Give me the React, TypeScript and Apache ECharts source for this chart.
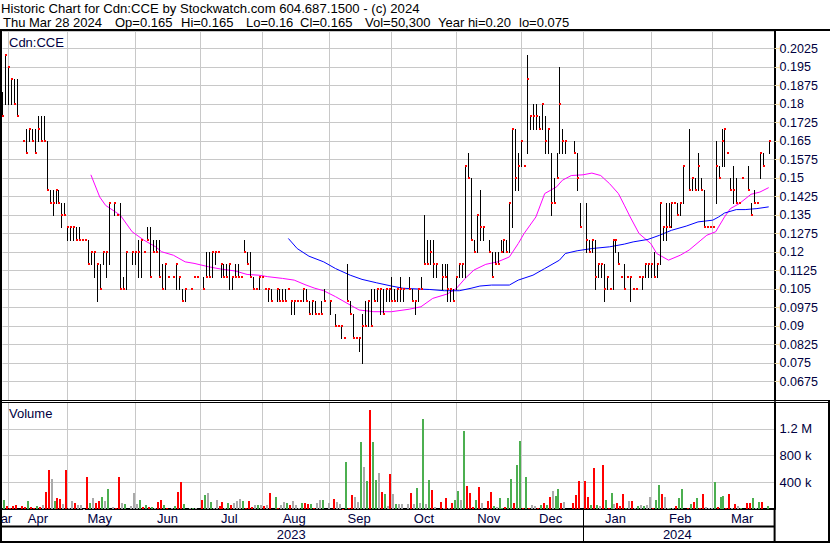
import React, { useEffect, useRef } from "react";
import * as echarts from "echarts";

// ---------------- DATA ----------------
// Calendar: every weekday from Thu 30 Mar 2023 to Mon 1 Apr 2024 (chart slots)
const FIRST_SLOT = "2023-03-30";
const LAST_SLOT = "2024-04-01";

const MONTH_NAMES = ["Jan", "Feb", "Mar", "Apr", "May", "Jun", "Jul", "Aug", "Sep", "Oct", "Nov", "Dec"];

// Daily High / Low / Close (null = no trade). Slot 0 = 30 Mar 2023.
const HIGH = [
  0.185, 0.2,
  0.195, 0.19, 0.19, 0.19, null,
  0.165, 0.17, 0.17, 0.17, 0.17,
  0.175, 0.175, 0.175, 0.165, 0.145,
  0.145, 0.145, 0.145, 0.14, 0.14,
  0.13, 0.13, 0.13, 0.13, 0.13,
  0.125, 0.125, 0.125, 0.12, 0.12,
  0.115, 0.115, 0.12, 0.12, 0.14,
  null, 0.14, 0.135, 0.14, 0.11,
  0.12, null, 0.12, 0.12, 0.125,
  0.125, 0.12, 0.13, 0.13, 0.125,
  0.125, 0.125, 0.115, 0.115, 0.11,
  null, 0.11, 0.115, 0.11, 0.105,
  0.105, null, 0.105, 0.11, 0.11,
  null, 0.11, 0.12, 0.12, 0.12,
  0.12, 0.12, 0.115, 0.115, 0.115,
  0.115, 0.11, 0.115, 0.115, 0.11,
  0.125, 0.12, 0.12, 0.11, 0.105,
  0.11, 0.11, 0.105, 0.105, 0.105,
  null, 0.105, 0.105, 0.105, 0.105,
  0.105, 0.1, 0.1, 0.1, 0.1,
  0.105, 0.105, 0.1, 0.1, 0.1,
  0.095, 0.1, 0.105, null, 0.1,
  null, 0.095, 0.09, 0.09, 0.085,
  0.115, 0.1, 0.095, 0.085, 0.085,
  0.095, 0.1, 0.1, 0.105, 0.105,
  0.105, 0.105, 0.105, 0.105, 0.105,
  0.11, 0.105, 0.105, 0.11, 0.105,
  null, 0.11, 0.105, 0.1, 0.105,
  0.11, 0.135, 0.125, 0.125, 0.125,
  0.115, null, 0.115, 0.115, 0.115,
  0.105, 0.105, 0.11, 0.115, 0.115,
  0.155, 0.16, 0.15, 0.125, 0.135,
  0.145, 0.13, null, 0.125, 0.12,
  0.12, 0.12, 0.125, 0.125, 0.125,
  0.14, 0.17, 0.17, 0.16, 0.165,
  0.155, 0.2, 0.175, 0.18, 0.18,
  0.175, 0.18, 0.175, 0.17, 0.16,
  0.15, 0.16, 0.195, 0.17, 0.165,
  null, null, 0.165, 0.16, 0.14,
  null, 0.14, 0.125, 0.125, 0.125,
  0.115, 0.115, 0.115, 0.11, 0.105,
  0.125, 0.125, 0.12, 0.11, 0.115,
  0.11, 0.11, 0.105, 0.105, 0.11,
  0.11, 0.115, 0.115, 0.115, 0.12,
  0.115, 0.14, 0.13, 0.14, 0.14,
  0.14, 0.14, 0.14, 0.14, 0.155,
  null, 0.17, 0.15, 0.15, 0.16,
  0.15, 0.145, 0.13, 0.13, 0.13,
  0.165, 0.155, 0.17, 0.17, 0.16,
  0.15, 0.155, 0.15, 0.14, 0.15,
  null, 0.155, 0.14, 0.145, 0.14,
  0.16, 0.16, null, 0.165, null,
];

const LOW = [
  0.175, 0.18,
  0.18, 0.18, 0.18, 0.175, null,
  0.165, 0.16, 0.165, 0.165, 0.16,
  0.165, 0.165, 0.165, 0.145, 0.14,
  0.135, 0.14, 0.14, 0.13, 0.135,
  0.125, 0.125, 0.125, 0.125, 0.125,
  0.125, 0.125, 0.115, 0.115, 0.11,
  0.1, 0.105, 0.115, 0.11, 0.115,
  null, 0.135, 0.135, 0.105, 0.105,
  0.105, null, 0.115, 0.115, 0.11,
  0.11, 0.12, 0.125, 0.11, 0.12,
  0.12, 0.11, 0.105, 0.105, 0.11,
  null, 0.11, 0.105, 0.105, 0.1,
  0.1, null, 0.105, 0.11, 0.11,
  null, 0.105, 0.11, 0.11, 0.11,
  0.115, 0.12, 0.11, 0.11, 0.11,
  0.105, 0.105, 0.11, 0.11, 0.11,
  0.12, 0.115, 0.11, 0.105, 0.105,
  0.105, 0.11, 0.105, 0.1, 0.1,
  null, 0.1, 0.1, 0.1, 0.1,
  0.105, 0.095, 0.095, 0.1, 0.1,
  0.1, 0.1, 0.095, 0.095, 0.095,
  0.095, 0.095, 0.1, null, 0.095,
  null, 0.09, 0.09, 0.085, 0.085,
  0.1, 0.095, 0.085, 0.085, 0.08,
  0.075, 0.09, 0.09, 0.09, 0.1,
  0.1, 0.095, 0.095, 0.1, 0.1,
  0.1, 0.1, 0.1, 0.1, 0.1,
  null, 0.105, 0.1, 0.095, 0.1,
  0.105, 0.115, 0.115, 0.115, 0.11,
  0.11, null, 0.105, 0.11, 0.1,
  0.1, 0.1, 0.105, 0.11, 0.11,
  0.11, 0.15, 0.125, 0.12, 0.12,
  0.125, 0.125, null, 0.12, 0.11,
  0.115, 0.115, 0.12, 0.12, 0.12,
  0.12, 0.13, 0.145, 0.145, 0.155,
  0.155, 0.16, 0.17, 0.17, 0.17,
  0.17, 0.17, 0.16, 0.16, 0.135,
  0.14, 0.15, 0.16, 0.16, 0.16,
  null, null, 0.16, 0.145, 0.13,
  null, 0.12, 0.12, 0.12, 0.105,
  0.11, 0.11, 0.1, 0.105, 0.105,
  0.105, 0.12, 0.115, 0.11, 0.105,
  0.11, 0.1, 0.105, 0.105, 0.11,
  0.105, 0.11, 0.11, 0.11, 0.11,
  0.11, 0.115, 0.125, 0.125, 0.13,
  0.13, 0.14, 0.135, 0.135, 0.14,
  null, 0.145, 0.145, 0.145, 0.145,
  0.145, 0.13, 0.13, 0.13, 0.13,
  0.14, 0.15, 0.155, 0.155, 0.16,
  0.145, 0.14, 0.14, 0.14, 0.15,
  null, 0.145, 0.135, 0.14, 0.14,
  0.15, 0.155, null, 0.16, null,
];

const CLOSE = [
  0.175, 0.2,
  0.195, 0.19, 0.18, 0.175, null,
  0.165, 0.16, 0.17, 0.165, 0.16,
  0.17, 0.165, 0.165, 0.145, 0.14,
  0.14, 0.145, 0.14, 0.135, 0.135,
  0.13, 0.13, 0.13, 0.125, 0.125,
  0.125, 0.125, 0.115, 0.12, 0.12,
  0.115, 0.105, 0.12, 0.12, 0.14,
  null, 0.14, 0.135, 0.105, 0.105,
  0.12, null, 0.12, 0.12, 0.12,
  0.125, 0.12, 0.125, 0.11, 0.12,
  0.12, 0.11, 0.105, 0.115, 0.11,
  null, 0.11, 0.115, 0.11, 0.1,
  0.105, null, 0.105, 0.11, 0.11,
  null, 0.105, 0.11, 0.11, 0.12,
  0.12, 0.12, 0.115, 0.11, 0.11,
  0.115, 0.11, 0.11, 0.11, 0.11,
  0.12, 0.115, 0.11, 0.105, 0.105,
  0.11, 0.11, 0.105, 0.105, 0.1,
  null, 0.105, 0.1, 0.1, 0.1,
  0.105, 0.1, 0.1, 0.1, 0.1,
  0.105, 0.1, 0.095, 0.1, 0.095,
  0.095, 0.095, 0.1, null, 0.1,
  null, 0.09, 0.09, 0.09, 0.085,
  0.1, 0.095, 0.085, 0.085, 0.085,
  0.09, 0.09, 0.1, 0.09, 0.1,
  0.105, 0.105, 0.095, 0.105, 0.105,
  0.1, 0.1, 0.105, 0.105, 0.105,
  null, 0.105, 0.1, 0.1, 0.105,
  0.105, 0.115, 0.115, 0.12, 0.115,
  0.115, null, 0.11, 0.11, 0.105,
  0.105, 0.1, 0.11, 0.115, 0.115,
  0.155, 0.15, 0.125, 0.12, 0.135,
  0.13, 0.13, null, 0.12, 0.11,
  0.115, 0.115, 0.12, 0.125, 0.12,
  0.14, 0.17, 0.15, 0.155, 0.165,
  0.155, 0.19, 0.175, 0.175, 0.175,
  0.17, 0.18, 0.165, 0.17, 0.14,
  0.14, 0.15, 0.18, 0.165, 0.165,
  null, null, 0.16, 0.15, 0.13,
  null, 0.125, 0.12, 0.125, 0.11,
  0.115, 0.115, 0.105, 0.11, 0.105,
  0.125, 0.125, 0.115, 0.11, 0.105,
  0.11, 0.11, 0.105, 0.105, 0.11,
  0.11, 0.115, 0.115, 0.115, 0.11,
  0.115, 0.14, 0.13, 0.13, 0.13,
  0.14, 0.14, 0.135, 0.14, 0.155,
  null, 0.145, 0.15, 0.145, 0.155,
  0.145, 0.13, 0.13, 0.13, 0.13,
  0.155, 0.15, 0.165, 0.17, 0.16,
  0.145, 0.145, 0.14, 0.14, 0.15,
  null, 0.145, 0.135, 0.14, 0.14,
  0.16, 0.155, null, 0.165, null,
];

const VOLUME = [
  40000, 135000,
  45000, 20000, 45000, 60000, null,
  45000, 30000, 120000, 30000, 20000,
  45000, 30000, 60000, 250000, 585000,
  445000, 120000, 165000, 150000, 75000,
  585000, 15000, 120000, 90000, 60000,
  60000, 5000, 480000, 90000, 165000,
  90000, 120000, 180000, 120000, 300000,
  null, 30000, 10000, 480000, 90000,
  75000, null, 45000, 240000, 75000,
  135000, 30000, 60000, 30000, 30000,
  15000, 105000, 135000, 60000, 15000,
  null, 15000, 45000, 255000, 405000,
  75000, null, 15000, 15000, 15000,
  null, 135000, 210000, 240000, 105000,
  15000, 135000, 45000, 105000, 15000,
  90000, 60000, 90000, 120000, 150000,
  120000, 15000, 120000, 30000, 60000,
  60000, 60000, 45000, 60000, 240000,
  null, 180000, 15000, 60000, 105000,
  90000, 60000, 120000, 60000, 15000,
  90000, 90000, 75000, 75000, 20000,
  90000, 135000, 135000, null, 90000,
  null, 150000, 105000, 75000, 5000,
  705000, 15000, 210000, 180000, 105000,
  1005000, 630000, 420000, 1485000, 1005000,
  435000, 540000, 255000, 225000, 45000,
  525000, 225000, 75000, 75000, 75000,
  null, 75000, 240000, 75000, 315000,
  90000, 1350000, 75000, 435000, 285000,
  30000, null, 105000, 15000, 165000,
  15000, 90000, 135000, 270000, 135000,
  1170000, 345000, 240000, 30000, 135000,
  330000, 90000, null, 120000, 255000,
  45000, 30000, 165000, 15000, 30000,
  165000, 450000, 90000, 660000, 1020000,
  15000, 480000, 15000, 60000, 45000,
  15000, 60000, 90000, 60000, 180000,
  270000, 195000, 300000, 90000, 105000,
  null, null, 90000, 210000, 420000,
  null, 420000, 180000, 60000, 615000,
  60000, 45000, 660000, 135000, 15000,
  240000, 75000, 90000, 45000, 225000,
  15000, 120000, 120000, 15000, 45000,
  60000, 45000, 60000, 180000, 15000,
  135000, 360000, 225000, 180000, 15000,
  15000, 15000, 45000, 165000, 300000,
  null, 15000, 75000, 105000, 165000,
  15000, 225000, 30000, 15000, 15000,
  405000, 30000, 180000, 195000, 15000,
  225000, 15000, 75000, 45000, 15000,
  null, 90000, 90000, 165000, 15000,
  105000, 105000, null, 50300, null,
];

// Moving averages: [slot, value]
const MA_MAGENTA = [
  [30, 0.1513], [33, 0.1423], [35, 0.1389], [40, 0.1349], [44, 0.1282], [48, 0.1248],
  [52, 0.1221], [54, 0.1201], [58, 0.1187], [62, 0.116], [65, 0.1154], [70, 0.114],
  [74, 0.1131], [79, 0.1123], [83, 0.1109], [87, 0.1106], [90, 0.11], [95, 0.1093],
  [99, 0.1086], [103, 0.1066], [106, 0.1053], [109, 0.1043], [113, 0.1019], [118, 0.0985],
  [121, 0.0965], [126, 0.0958], [132, 0.0958], [138, 0.0968], [142, 0.0978], [146, 0.1012],
  [151, 0.103], [154, 0.1052], [157, 0.1093], [160, 0.1127], [164, 0.115], [168, 0.116],
  [172, 0.118], [175, 0.1234], [177, 0.1275], [181, 0.1342], [184, 0.1437], [188, 0.1464],
  [190, 0.1491], [193, 0.151], [197, 0.1513], [200, 0.152], [203, 0.151], [206, 0.1477],
  [209, 0.1437], [211, 0.139], [213, 0.1342], [216, 0.1275], [220, 0.1234], [222, 0.1194],
  [226, 0.1167], [230, 0.1187], [233, 0.1208], [237, 0.1248], [239, 0.1268], [242, 0.1282],
  [245, 0.1342], [247, 0.1376], [250, 0.1396], [254, 0.1434], [257, 0.1443], [260, 0.1461],
];

const MA_BLUE = [
  [97, 0.1255], [100, 0.1214], [104, 0.1183], [109, 0.116], [113, 0.1133], [118, 0.1106],
  [122, 0.1089], [127, 0.1075], [132, 0.1062], [136, 0.1053], [141, 0.105], [145, 0.1048],
  [150, 0.1043], [155, 0.1043], [159, 0.1053], [162, 0.1062], [166, 0.1066], [172, 0.1066],
  [175, 0.1086], [180, 0.1106], [184, 0.1133], [189, 0.1167], [191, 0.1194], [195, 0.1205],
  [200, 0.1214], [206, 0.1221], [211, 0.1232], [214, 0.1241], [219, 0.1251], [223, 0.1268],
  [227, 0.1288], [232, 0.1305], [236, 0.1322], [241, 0.1329], [243, 0.1342], [245, 0.1358],
  [249, 0.1372], [252, 0.1372], [256, 0.1376], [260, 0.1383],
];

const TITLE = "Historic Chart for Cdn:CCE by Stockwatch.com 604.687.1500 - (c) 2024";
const QUOTE_FIELDS = ["Thu Mar 28 2024", "Op=0.165", "Hi=0.165", "Lo=0.16", "Cl=0.165", "Vol=50,300", "Year hi=0.20", "lo=0.075"];
const SYMBOL_LABEL = "Cdn:CCE";
const VOLUME_LABEL = "Volume";

// ---------------- DERIVED ----------------
function weekdaysBetween(from: string, to: string): string[] {
  const out: string[] = [];
  const d = new Date(from + "T00:00:00Z");
  const end = new Date(to + "T00:00:00Z");
  while (d <= end) {
    const wd = d.getUTCDay();
    if (wd !== 0 && wd !== 6) out.push(d.toISOString().slice(0, 10));
    d.setUTCDate(d.getUTCDate() + 1);
  }
  return out;
}

const DATES = weekdaysBetween(FIRST_SLOT, LAST_SLOT);
let lastData = 0;
CLOSE.forEach((c, i) => { if (c != null) lastData = i; });

const monthStart = new Set<number>();
const yearStart = new Set<number>();
DATES.forEach((d, i) => {
  if (i > 0 && d.slice(0, 7) !== DATES[i - 1].slice(0, 7)) monthStart.add(i);
  if (i > 0 && d.slice(0, 4) !== DATES[i - 1].slice(0, 4)) yearStart.add(i);
});

function blockLabels(starts: Set<number>, skipFirst: boolean): Set<number> {
  const s = [0, ...Array.from(starts).sort((a, b) => a - b)];
  const res = new Set<number>();
  s.forEach((a, k) => {
    if (k === 0 && skipFirst) return;
    const b = Math.min(k + 1 < s.length ? s[k + 1] : DATES.length, lastData + 1);
    if (b > a) res.add(Math.floor((a + b) / 2));
  });
  return res;
}
const monthLabelIdx = blockLabels(monthStart, true);
const yearLabelIdx = blockLabels(yearStart, false);
const firstMonthName = MONTH_NAMES[parseInt(DATES[0].slice(5, 7), 10) - 1];

const ohlcData: number[][] = [];
const volData: number[][] = [];
let prevClose: number | null = null;
for (let i = 0; i < CLOSE.length; i++) {
  const c = CLOSE[i];
  if (c != null) {
    ohlcData.push([i, HIGH[i] as number, LOW[i] as number, c]);
    const dir = prevClose == null ? 0 : c > prevClose ? 1 : c < prevClose ? -1 : 0;
    if (VOLUME[i] != null) volData.push([i, VOLUME[i] as number, dir]);
    prevClose = c;
  }
}

// ---------------- STYLE ----------------
const FONT = '"Liberation Sans", Arial, sans-serif';
const NAVY = "#000040";
const GRID_GRAY = "#c8c8c8";
const L = 2.47;
const R = 830 - 774.6;
const QUOTE_X = [3, 115, 181, 246, 300, 365, 438, 519];

const option: any = {
  animation: false,
  backgroundColor: "#ffffff",
  grid: [
    { left: L, right: R, top: 31, height: 369 },
    { left: L, right: R, top: 402, height: 107 },
  ],
  xAxis: [
    {
      type: "category", gridIndex: 0, data: DATES, boundaryGap: false,
      axisLine: { show: false }, axisTick: { show: false }, axisLabel: { show: false },
      splitLine: { show: true, interval: (i: number) => monthStart.has(i), lineStyle: { color: GRID_GRAY, width: 1 } },
    },
    {
      type: "category", gridIndex: 1, data: DATES, boundaryGap: false,
      axisLine: { show: true, lineStyle: { color: "#000", width: 2 } },
      axisTick: { show: true, interval: (i: number) => yearStart.has(i), length: 17, lineStyle: { color: "#000", width: 1 } },
      axisLabel: {
        show: true, interval: (i: number) => monthLabelIdx.has(i), margin: 3,
        formatter: (v: string) => MONTH_NAMES[parseInt(v.slice(5, 7), 10) - 1],
        color: NAVY, fontSize: 13, fontFamily: FONT,
      },
      splitLine: { show: true, interval: (i: number) => monthStart.has(i), lineStyle: { color: GRID_GRAY, width: 1 } },
    },
    {
      type: "category", gridIndex: 1, data: DATES, boundaryGap: false, position: "bottom", offset: 17,
      axisLine: { show: false },
      axisTick: { show: true, interval: (i: number) => yearStart.has(i), length: 15, lineStyle: { color: "#000", width: 1 } },
      axisLabel: {
        show: true, interval: (i: number) => yearLabelIdx.has(i), margin: 2,
        formatter: (v: string) => v.slice(0, 4), color: NAVY, fontSize: 13, fontFamily: FONT,
      },
      splitLine: { show: false },
    },
  ],
  yAxis: [
    {
      type: "value", gridIndex: 0, position: "right", min: 0.06, max: 0.2096, interval: 0.0075,
      axisLine: { show: true, lineStyle: { color: "#000", width: 2 } },
      axisTick: { show: true, length: 5, lineStyle: { color: "#ecdcaa" } },
      axisLabel: {
        margin: 5, color: NAVY, fontSize: 12.5, fontFamily: FONT, showMinLabel: false, showMaxLabel: false,
        formatter: (v: number) => String(Math.round(v * 10000) / 10000),
      },
      splitLine: { show: true, lineStyle: { color: GRID_GRAY, width: 1 } },
    },
    {
      type: "value", gridIndex: 1, position: "right", min: 0, max: 1600000, interval: 400000,
      axisLine: { show: true, lineStyle: { color: "#000", width: 2 } },
      axisTick: { show: false },
      axisLabel: {
        margin: 5, color: NAVY, fontSize: 13, fontFamily: FONT, showMinLabel: false, showMaxLabel: false,
        formatter: (v: number) => (v >= 1000000 ? `${v / 1000000} M` : `${v / 1000} k`),
      },
      splitLine: { show: true, lineStyle: { color: GRID_GRAY, width: 1 } },
    },
  ],
  series: [
    {
      type: "line", xAxisIndex: 0, yAxisIndex: 0, data: MA_MAGENTA, symbol: "none", silent: true, z: 2,
      lineStyle: { color: "#ff00ff", width: 1 },
    },
    {
      type: "line", xAxisIndex: 0, yAxisIndex: 0, data: MA_BLUE, symbol: "none", silent: true, z: 2,
      lineStyle: { color: "#0000ff", width: 1 },
    },
    {
      type: "custom", xAxisIndex: 0, yAxisIndex: 0, data: ohlcData, z: 3, silent: true,
      encode: { x: 0, y: [1, 2, 3] },
      renderItem: (params: any, api: any) => {
        const i = api.value(0);
        const hi = api.coord([i, api.value(1)]);
        const lo = api.coord([i, api.value(2)]);
        const cl = api.coord([i, api.value(3)]);
        const x = Math.round(hi[0]);
        const yH = Math.round(hi[1]);
        const yL = Math.round(lo[1]);
        const yC = Math.round(cl[1]);
        const children: any[] = [];
        if (yL > yH) {
          children.push({ type: "rect", shape: { x: x, y: yH, width: 1, height: yL - yH + 1 }, style: { fill: "#000000" } });
        }
        children.push({ type: "rect", shape: { x: x, y: yC - 1, width: 2, height: 2 }, style: { fill: "#ff0000" } });
        return { type: "group", children };
      },
    },
    {
      type: "custom", xAxisIndex: 1, yAxisIndex: 1, data: volData, z: 3, silent: true,
      encode: { x: 0, y: 1 },
      renderItem: (params: any, api: any) => {
        const i = api.value(0);
        const top = api.coord([i, api.value(1)]);
        const base = api.coord([i, 0]);
        const dir = api.value(2);
        const x = Math.round(top[0]);
        const yT = Math.round(top[1]);
        const color = dir > 0 ? "#4caf50" : dir < 0 ? "#ff0000" : "#aaaaaa";
        return { type: "rect", shape: { x: x - 2, y: yT, width: 2, height: Math.max(1, base[1] - yT) }, style: { fill: color } };
      },
    },
  ],
  graphic: [
    { type: "text", x: 1, y: 8, style: { text: TITLE, fill: "#000", font: `13.15px ${FONT}`, verticalAlign: "middle" } },
    ...QUOTE_FIELDS.map((t, k) => ({
      type: "text", x: QUOTE_X[k], y: 22,
      style: { text: t, fill: "#000", font: `13px ${FONT}`, verticalAlign: "middle" },
    })),
    { type: "text", x: 9, y: 42, z: 10, style: { text: SYMBOL_LABEL, fill: NAVY, font: `13px ${FONT}`, verticalAlign: "middle" } },
    { type: "text", x: 9, y: 413, z: 10, style: { text: VOLUME_LABEL, fill: NAVY, font: `13px ${FONT}`, verticalAlign: "middle" } },
    // partial month name at the left edge (month that started before the first slot)
    { type: "text", x: 1, y: 518, z: 5, style: { text: firstMonthName, fill: NAVY, font: `13px ${FONT}`, align: "center", verticalAlign: "middle" } },
    // frame
    { type: "rect", shape: { x: 0, y: 29, width: 830, height: 2 }, style: { fill: "#000" }, z: 20 },
    { type: "rect", shape: { x: 0, y: 29, width: 2, height: 514 }, style: { fill: "#000" }, z: 20 },
    { type: "rect", shape: { x: 0, y: 400, width: 830, height: 1 }, style: { fill: "#000" }, z: 20 },
    { type: "rect", shape: { x: 0, y: 402, width: 830, height: 1 }, style: { fill: "#000" }, z: 20 },
    { type: "rect", shape: { x: 0, y: 541, width: 830, height: 2 }, style: { fill: "#000" }, z: 20 },
    { type: "rect", shape: { x: 828, y: 400, width: 2, height: 143 }, style: { fill: "#000" }, z: 20 },
    { type: "rect", shape: { x: 773.6, y: 509, width: 2, height: 33 }, style: { fill: "#000" }, z: 20 },
    { type: "rect", shape: { x: 0, y: 525.5, width: 775, height: 2 }, style: { fill: "#000" }, z: 20 },
  ],
};

export default function App() {
  const ref = useRef<HTMLDivElement>(null);
  useEffect(() => {
    if (!ref.current) return;
    const chart = echarts.init(ref.current, undefined, { renderer: "svg", width: 830, height: 543 });
    chart.setOption(option);
    return () => chart.dispose();
  }, []);
  return (
    <div
      ref={ref}
      style={{ position: "fixed", left: 0, top: 0, width: 830, height: 543, background: "#fff" }}
    />
  );
}
